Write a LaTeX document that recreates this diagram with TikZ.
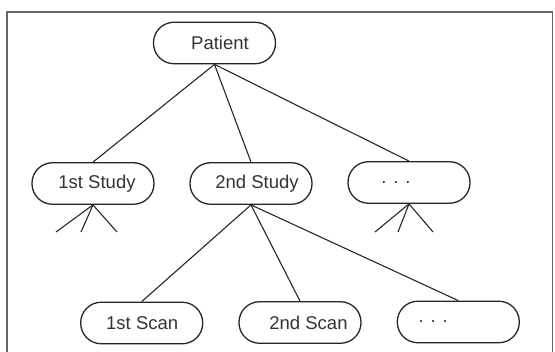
\documentclass[tikz,border=0pt]{standalone}
\usepackage{fontspec}
\setmainfont{Liberation Sans}
\begin{document}
\begin{tikzpicture}[x=1pt,y=-1pt,
  box/.style={draw=black!85,line width=1.3pt,rounded corners=20.5pt,
    minimum width=122pt,minimum height=41.5pt,inner sep=0pt,
    font=\fontsize{18.5pt}{20pt}\selectfont,text=black!80},
  link/.style={draw=black!85,line width=1.1pt},
  frame/.style={draw=black!60,line width=1.2pt}]
\useasboundingbox (0,0) rectangle (555,352);
\draw[frame] (7,352) -- (7,12) -- (552.5,12) -- (552.5,352);
% nodes
\node[box] (P)  at (214.5,43)   {\hspace{11pt}Patient};
\node[box] (S1) at (93,183.5)   {\hspace{8pt}1st Study};
\node[box] (S2) at (251,183.5)  {\hspace{12pt}2nd Study};
\node[box] (S3) at (409,182.5)  {. . .\hspace{26pt}\mbox{}};
\node[box] (C1) at (141.7,323)  {\hspace{1pt}1st Scan};
\node[box] (C2) at (300,322.5)  {\hspace{17pt}2nd Scan};
\node[box] (C3) at (458.3,322)  {. . .\hspace{50pt}\mbox{}};
% links
\draw[link] (P.south) -- (S1.north);
\draw[link] (P.south) -- (S2.north);
\draw[link] (P.south) -- (S3.north);
\draw[link] (S2.south) -- (C1.north);
\draw[link] (S2.south) -- (C2.north);
\draw[link] (S2.south) -- (C3.north);
% fans
\coordinate (f1a) at (56,232);
\coordinate (f1b) at (81,232);
\coordinate (f1c) at (117,232);
\coordinate (f3a) at (375,232);
\coordinate (f3b) at (398,232);
\coordinate (f3c) at (433,232);
\draw[link] (S1.south) -- (f1a);
\draw[link] (S1.south) -- (f1b);
\draw[link] (S1.south) -- (f1c);
\draw[link] (S3.south) -- (f3a);
\draw[link] (S3.south) -- (f3b);
\draw[link] (S3.south) -- (f3c);
\end{tikzpicture}
\end{document}
